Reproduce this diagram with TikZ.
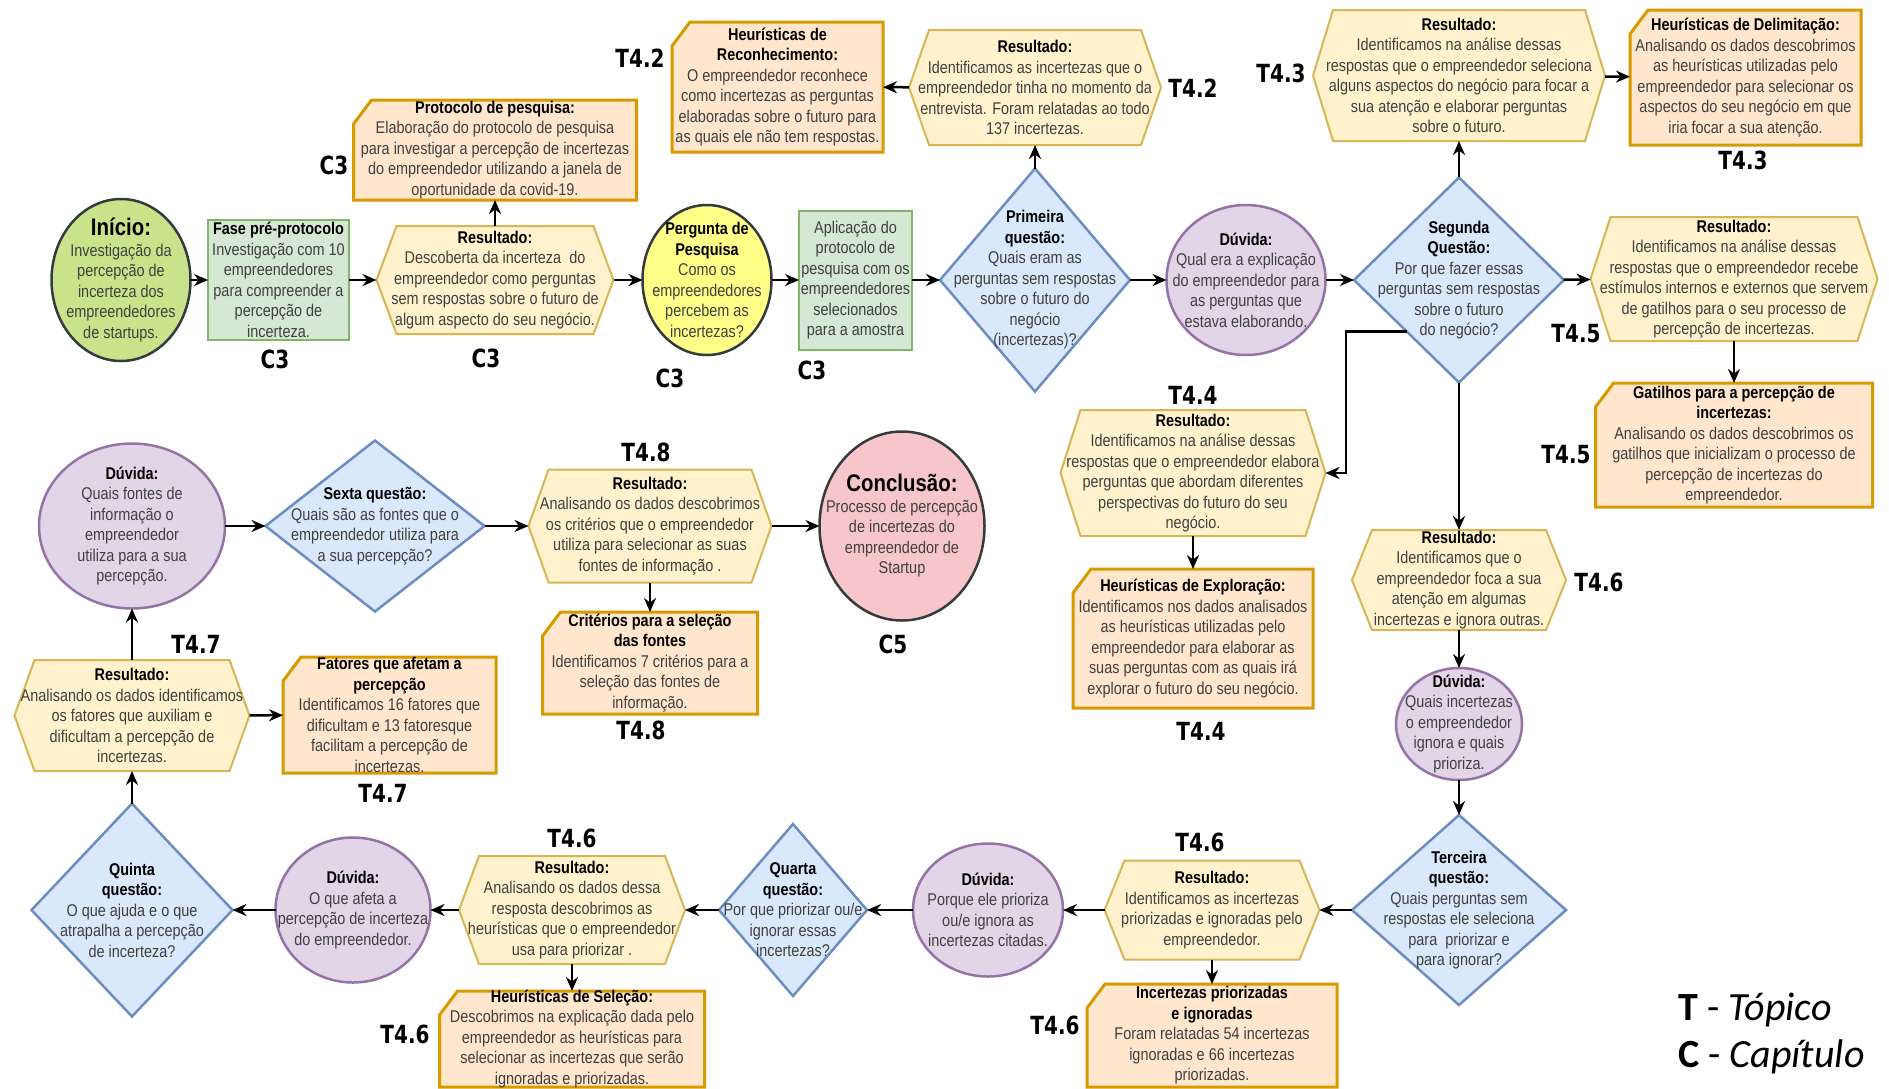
\documentclass[tikz,border=0pt]{standalone}
\usepackage{fontspec}
\setmainfont{Liberation Sans}
\newfontfamily\bodyfont[FakeStretch=0.85]{Liberation Sans}
\newfontfamily\tagfont[FakeStretch=0.8]{DejaVu Sans}
\newfontfamily\legfont{Carlito}
\usetikzlibrary{shapes.geometric,arrows.meta,calc}

\definecolor{hexfill}{HTML}{FFF2CC}
\definecolor{hexline}{HTML}{D6B656}
\definecolor{cardfill}{HTML}{FFE6CC}
\definecolor{cardline}{HTML}{D79B00}
\definecolor{diafill}{HTML}{DAE8FC}
\definecolor{dialine}{HTML}{6C8EBF}
\definecolor{purfill}{HTML}{E1D5E7}
\definecolor{purline}{HTML}{9673A6}
\definecolor{grnfill}{HTML}{D5E8D4}
\definecolor{grnline}{HTML}{82B366}
\definecolor{limefill}{HTML}{C9E38A}
\definecolor{yelfill}{HTML}{FFFF88}
\definecolor{pinkfill}{HTML}{F6C6CA}
\definecolor{darkline}{HTML}{36393D}
\definecolor{bodytext}{HTML}{404040}

\tikzset{
  shp/.style={inner sep=0pt, outer sep=0pt},
  hexshape/.style={fill=hexfill, draw=hexline, line width=2pt, line join=miter},
  cardshape/.style={fill=cardfill, draw=cardline, line width=3pt, line join=miter},
  diam/.style={shape=diamond, shp, fill=diafill, draw=dialine, line width=2.5pt},
  oval/.style={shape=ellipse, shp, line width=2.5pt},
  sqbox/.style={shape=rectangle, shp, fill=grnfill, draw=grnline, line width=2pt},
  txt/.style={align=center, inner sep=0pt, font=\bodyfont\fontsize{17}{20.5}\selectfont, text=bodytext},
  tag/.style={font=\tagfont\bfseries\fontsize{25}{28}\selectfont, inner sep=0pt},
  legend/.style={font=\legfont\fontsize{40}{44}\selectfont, inner sep=0pt, anchor=west},
  arr/.style={-{Stealth[length=14pt,width=12pt]}, line width=2.5pt},
}

% bold black heading inside a node
\newcommand\hd[1]{\textbf{\color{black}#1}}

% hexagon: name, x, y, width, height, text
\newcommand\hexbox[6]{%
  \node[shp, minimum width=#4pt, minimum height=#5pt] (#1) at (#2,#3) {};
  \path[hexshape] (#1.west) -- ([xshift=20pt]#1.north west) -- ([xshift=-20pt]#1.north east)
     -- (#1.east) -- ([xshift=-20pt]#1.south east) -- ([xshift=20pt]#1.south west) -- cycle;
  \node[txt] (#1-t) at (#1) {#6};}

% card with cut top-left corner: name, x, y, width, height, text
\newcommand\cardbox[6]{%
  \node[shp, minimum width=#4pt, minimum height=#5pt] (#1) at (#2,#3) {};
  \path[cardshape] ([yshift=-24pt]#1.north west) -- ([xshift=18pt]#1.north west) -- (#1.north east)
     -- (#1.south east) -- (#1.south west) -- cycle;
  \node[txt] (#1-t) at (#1) {#6};}

% diamond: name, x, y, width, height, text
\newcommand\diabox[6]{%
  \node[diam, minimum width=#4pt, minimum height=#5pt] (#1) at (#2,#3) {};
  \node[txt] (#1-t) at (#1) {#6};}

% ellipse: name, x, y, width, height, fill, line, text
\newcommand\ovalbox[8]{%
  \node[oval, fill=#6, draw=#7, minimum width=#4pt, minimum height=#5pt] (#1) at (#2,#3) {};
  \node[txt] (#1-t) at (#1) {#8};}

% plain rectangle: name, x, y, width, height, text
\newcommand\sqnode[6]{%
  \node[sqbox, minimum width=#4pt, minimum height=#5pt] (#1) at (#2,#3) {};
  \node[txt] (#1-t) at (#1) {#6};}

\begin{document}
\begin{tikzpicture}[x=1pt,y=-1pt]
\fill[white] (0,0) rectangle (1889,1088);
\useasboundingbox (0,0) rectangle (1889,1088);

% ---------- first row ----------
\ovalbox{inicio}{121}{280}{139}{162}{limefill}{darkline}{{\fontsize{24}{26}\selectfont\hd{Início:}}\\Investigação da\\percepção de\\incerteza dos\\empreendedores\\de startups.}
\sqnode{fase}{278.5}{280}{141}{120}{\hd{Fase pré-protocolo}\\Investigação com 10\\empreendedores\\para compreender a\\percepção de\\incerteza.}
\hexbox{res1}{495}{280}{237}{108}{\hd{Resultado:}\\Descoberta da incerteza\ \ do\\empreendedor como perguntas\\sem respostas sobre o futuro de\\algum aspecto do seu negócio.}
\cardbox{prot}{495}{150}{283}{100}{\hd{Protocolo de pesquisa:}\\Elaboração do protocolo de pesquisa\\para investigar a percepção de incertezas\\do empreendedor utilizando a janela de\\oportunidade da covid-19.}
\ovalbox{perg}{707}{280}{129}{150}{yelfill}{darkline}{\hd{Pergunta de}\\\hd{Pesquisa}\\Como os\\empreendedores\\percebem as\\incertezas?}
\sqnode{aplic}{855.5}{280}{113}{139}{Aplicação do\\protocolo de\\pesquisa com os\\empreendedores\\selecionados\\para a amostra}
\diabox{q1}{1035}{280}{190}{223}{\hd{Primeira}\\\hd{questão:}\\Quais eram as\\perguntas sem respostas\\sobre o futuro do\\negócio\\(incertezas)?}
\hexbox{res2}{1035}{87.5}{252}{115}{\hd{Resultado:}\\Identificamos as incertezas que o\\empreendedor tinha no momento da\\entrevista. Foram relatadas ao todo\\137 incertezas.}
\cardbox{hrec}{777.5}{87}{211}{130}{\hd{Heurísticas de}\\\hd{Reconhecimento:}\\O empreendedor reconhece\\como incertezas as perguntas\\elaboradas sobre o futuro para\\as quais ele não tem respostas.}
\ovalbox{duv1}{1246}{280}{159}{150}{purfill}{purline}{\hd{Dúvida:}\\Qual era a explicação\\do empreendedor para\\as perguntas que\\estava elaborando.}
\diabox{q2}{1459}{280}{210}{205}{\hd{Segunda}\\\hd{Questão:}\\Por que fazer essas\\perguntas sem respostas\\sobre o futuro\\do negócio?}
\hexbox{res3}{1459}{75.5}{292}{131}{\hd{Resultado:}\\Identificamos na análise dessas\\respostas que o empreendedor seleciona\\alguns aspectos do negócio para focar a\\sua atenção e elaborar perguntas\\sobre o futuro.}
\cardbox{hdel}{1745.5}{77.5}{231}{135}{\hd{Heurísticas de Delimitação:}\\Analisando os dados descobrimos\\as heurísticas utilizadas pelo\\empreendedor para selecionar os\\aspectos do seu negócio em que\\iria focar a sua atenção.}
\hexbox{res5}{1734}{279}{287}{124}{\hd{Resultado:}\\Identificamos na análise dessas\\respostas que o empreendedor recebe\\estímulos internos e externos que servem\\de gatilhos para o seu processo de\\percepção de incertezas.}
\cardbox{gat}{1734}{445}{277}{124}{\hd{Gatilhos para a percepção de}\\\hd{incertezas:}\\Analisando os dados descobrimos os\\gatilhos que inicializam o processo de\\percepção de incertezas do\\empreendedor.}

% ---------- right column ----------
\hexbox{res4}{1193}{473}{265}{126}{\hd{Resultado:}\\Identificamos na análise dessas\\respostas que o empreendedor elabora\\perguntas que abordam diferentes\\perspectivas do futuro do seu\\negócio.}
\cardbox{hexp}{1193}{638.5}{240}{139}{\hd{Heurísticas de Exploração:}\\Identificamos nos dados analisados\\as heurísticas utilizadas pelo\\empreendedor para elaborar as\\suas perguntas com as quais irá\\explorar o futuro do seu negócio.}
\hexbox{res6}{1459}{580}{214}{100}{\hd{Resultado:}\\Identificamos que o\\empreendedor foca a sua\\atenção em algumas\\incertezas e ignora outras.}
\ovalbox{duv2}{1459}{724}{126}{112}{purfill}{purline}{\hd{Dúvida:}\\Quais incertezas\\o empreendedor\\ignora e quais\\prioriza.}
\diabox{q3}{1459}{910}{214}{190}{\hd{Terceira}\\\hd{questão:}\\Quais perguntas sem\\respostas ele seleciona\\para\ \ priorizar e\\para ignorar?}

% ---------- bottom row ----------
\hexbox{res7}{1212}{910}{215}{99}{\hd{Resultado:}\\Identificamos as incertezas\\priorizadas e ignoradas pelo\\empreendedor.}
\cardbox{incp}{1212}{1035.5}{250}{103}{\hd{Incertezas priorizadas}\\\hd{e ignoradas}\\Foram relatadas 54 incertezas\\ignoradas e 66 incertezas\\priorizadas.}
\ovalbox{duv3}{988}{910}{150}{133}{purfill}{purline}{\hd{Dúvida:}\\Porque ele prioriza\\ou/e ignora as\\incertezas citadas.}
\diabox{q4}{793}{910}{148}{172}{\hd{Quarta}\\\hd{questão:}\\Por que priorizar ou/e\\ignorar essas\\incertezas?}
\hexbox{res8}{572}{910}{226}{108}{\hd{Resultado:}\\Analisando os dados dessa\\resposta descobrimos as\\heurísticas que o empreendedor\\usa para priorizar .}
\cardbox{hsel}{572}{1039}{265}{96}{\hd{Heurísticas de Seleção:}\\Descobrimos na explicação dada pelo\\empreendedor as heurísticas para\\selecionar as incertezas que serão\\ignoradas e priorizadas.}
\ovalbox{duv4}{353}{910}{155}{145}{purfill}{purline}{\hd{Dúvida:}\\O que afeta a\\percepção de incerteza\\do empreendedor.}
\diabox{q5}{132}{910}{201}{213}{\hd{Quinta}\\\hd{questão:}\\O que ajuda e o que\\atrapalha a percepção\\de incerteza?}

% ---------- left column and middle row ----------
\hexbox{res9}{132}{715.5}{235}{111}{\hd{Resultado:}\\Analisando os dados identificamos\\os fatores que auxiliam e\\dificultam a percepção de\\incertezas.}
\cardbox{fat}{389.5}{715}{213}{116}{\hd{Fatores que afetam a}\\\hd{percepção}\\Identificamos 16 fatores que\\dificultam e 13 fatoresque\\facilitam a percepção de\\incertezas.}
\ovalbox{duv5}{132}{526}{186}{165}{purfill}{purline}{\hd{Dúvida:}\\Quais fontes de\\informação o\\empreendedor\\utiliza para a sua\\percepção.}
\diabox{q6}{375}{526}{219}{171}{\hd{Sexta questão:}\\Quais são as fontes que o\\empreendedor utiliza para\\a sua percepção?}
\hexbox{res10}{650}{526}{243}{113}{\hd{Resultado:}\\Analisando os dados descobrimos\\os critérios que o empreendedor\\utiliza para selecionar as suas\\fontes de informação .}
\cardbox{crit}{650}{663}{215}{102}{\hd{Critérios para a seleção}\\\hd{das fontes}\\Identificamos 7 critérios para a\\seleção das fontes de\\informação.}
\ovalbox{conc}{902}{526}{165}{189}{pinkfill}{darkline}{{\fontsize{24}{26}\selectfont\hd{Conclusão:}}\\Processo de percepção\\de incertezas do\\empreendedor de\\Startup}

% ---------- connectors ----------
\coordinate (q2bend) at (1346,0);
\draw[arr] (inicio) -- (fase);
\draw[arr] (fase) -- (res1);
\draw[arr] (res1) -- (prot);
\draw[arr] (res1) -- (perg);
\draw[arr] (perg) -- (aplic);
\draw[arr] (aplic) -- (q1);
\draw[arr] (q1) -- (res2);
\draw[arr] (res2) -- (hrec);
\draw[arr] (q1) -- (duv1);
\draw[arr] (duv1) -- (q2);
\draw[arr] (q2) -- (res3);
\draw[arr] (res3) -- (hdel);
\draw[arr] (q2) -- (res5);
\draw[arr] (res5) -- (gat);
\draw[arr] (q2.south west) -- (q2.south west -| q2bend) |- (res4.east);
\draw[arr] (res4) -- (hexp);
\draw[arr] (q2) -- (res6);
\draw[arr] (res6) -- (duv2);
\draw[arr] (duv2) -- (q3);
\draw[arr] (q3) -- (res7);
\draw[arr] (res7) -- (incp);
\draw[arr] (res7) -- (duv3);
\draw[arr] (duv3) -- (q4);
\draw[arr] (q4) -- (res8);
\draw[arr] (res8) -- (hsel);
\draw[arr] (res8) -- (duv4);
\draw[arr] (duv4) -- (q5);
\draw[arr] (q5) -- (res9);
\draw[arr] (res9) -- (fat);
\draw[arr] (res9) -- (duv5);
\draw[arr] (duv5) -- (q6);
\draw[arr] (q6) -- (res10);
\draw[arr] (res10) -- (crit);
\draw[arr] (res10) -- (conc);

% ---------- chapter and topic tags ----------
\node[tag] (c3a) at (334,165) {C3};
\node[tag] (c3b) at (275,359) {C3};
\node[tag] (c3c) at (486,358) {C3};
\node[tag] (c3d) at (670,378) {C3};
\node[tag] (c3e) at (812,370) {C3};
\node[tag] (t42a) at (640,58) {T4.2};
\node[tag] (t42b) at (1193,88) {T4.2};
\node[tag] (t43a) at (1281,73) {T4.3};
\node[tag] (t43b) at (1743,160) {T4.3};
\node[tag] (t45a) at (1576,334) {T4.5};
\node[tag] (t45b) at (1566,455) {T4.5};
\node[tag] (t44a) at (1193,395) {T4.4};
\node[tag] (t44b) at (1201,731) {T4.4};
\node[tag] (t46a) at (1599,582) {T4.6};
\node[tag] (t46b) at (1200,842) {T4.6};
\node[tag] (t46c) at (1055,1025) {T4.6};
\node[tag] (t46d) at (572,838) {T4.6};
\node[tag] (t46e) at (405,1034) {T4.6};
\node[tag] (t47a) at (196,644) {T4.7};
\node[tag] (t47b) at (383,793) {T4.7};
\node[tag] (t48a) at (646,452) {T4.8};
\node[tag] (t48b) at (641,730) {T4.8};
\node[tag] (c5) at (893,644) {C5};

% ---------- legend ----------
\node[legend] (legt) at (1678,1010) {\textbf{T} - \textit{Tópico}};
\node[legend] (legc) at (1678,1057) {\textbf{C} - \textit{Capítulo}};
\end{tikzpicture}
\end{document}
